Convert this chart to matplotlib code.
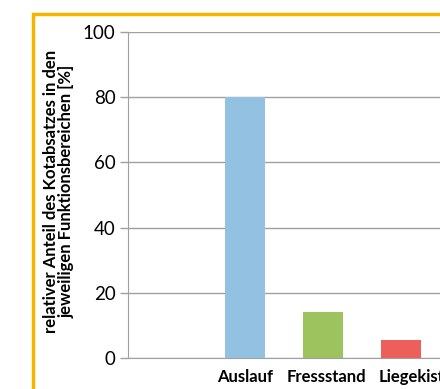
import matplotlib.pyplot as plt
from matplotlib.patches import Rectangle
from matplotlib.transforms import ScaledTranslation

plt.rcParams['font.family'] = ['Lato', 'DejaVu Sans']

# data
categories = ['', 'Auslauf', 'Fressstand', 'Liegekiste']
values = [0, 80.2, 14.1, 5.5]
colors = ['#93c1e2', '#93c1e2', '#9dc35f', '#ed5f5b']
yticks = [0, 20, 40, 60, 80, 100]

W, H = 440, 389
fig = plt.figure(figsize=(W / 100, H / 100), dpi=100)

# axes placed in pixel units
left, right, top, bottom = 128, 440, 32, 358
ax = fig.add_axes([left / W, 1 - bottom / H, (right - left) / W, (bottom - top) / H])

x = range(len(categories))
ax.bar(x, values, width=0.51, color=colors, zorder=3)

ax.set_xlim(-0.5, len(categories) - 0.5)
ax.set_ylim(0, 100)
ax.set_yticks(yticks)
ax.set_xticks(list(x))
ax.set_xticklabels(categories, fontsize=12, fontweight='bold')
ax.tick_params(axis='y', labelsize=13.5, length=6, color='#a0a0a0', width=1, pad=3)
ax.tick_params(axis='x', length=0, pad=8)
ax.grid(axis='y', color='#a0a0a0', lw=1, zorder=0)

# excel nudges the crowded category labels a little to the right
shifts = [0, 0, 3, 15]
for lab, dx in zip(ax.get_xticklabels(), shifts):
    lab.set_transform(lab.get_transform() + ScaledTranslation(dx / 100, 0, fig.dpi_scale_trans))

for s in ['top', 'right']:
    ax.spines[s].set_visible(False)
ax.spines['left'].set_color('#a0a0a0')
ax.spines['bottom'].set_color('#a0a0a0')

ax.set_ylabel('relativer Anteil des Kotabsatzes in den\njeweiligen Funktionsbereichen [%]',
              fontsize=12, fontweight='bold', linespacing=1.0)
ax.yaxis.set_label_coords(-0.17, 0.51)

# orange chart frame (cropped at the right and bottom)
fig.patches.append(Rectangle((33 / W, -0.1), 1.2, 1 - 14 / H + 0.1, transform=fig.transFigure,
                             fill=False, edgecolor='#f5b400', lw=2.5, zorder=0))

plt.savefig('out.png', dpi=100)
